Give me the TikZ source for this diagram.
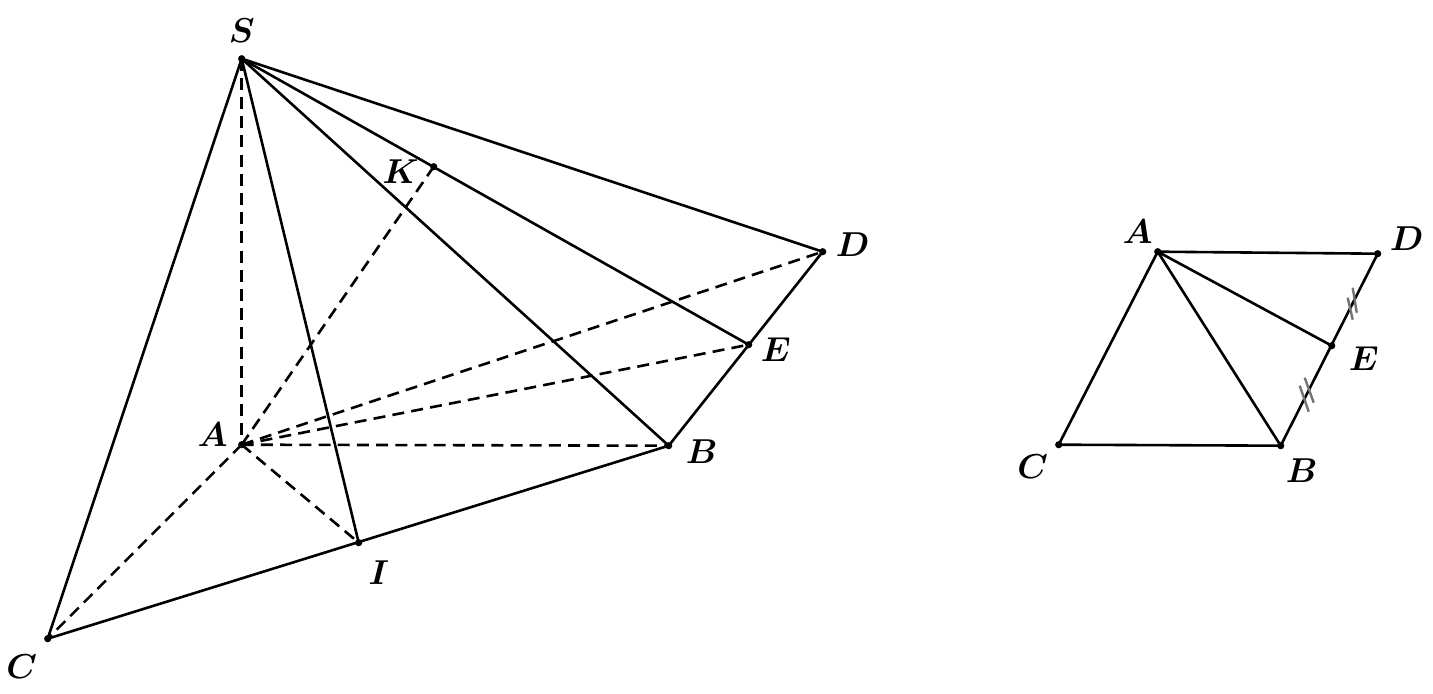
\documentclass[tikz,border=0pt]{standalone}
\usepackage{amsmath}
\tikzset{
  x=0.5pt,y=-0.5pt,
  ptn/.style={circle,fill=black,inner sep=0pt,minimum size=3.6pt},
  seg/.style={line width=1.3pt,line cap=round},
  hid/.style={line width=1.3pt,dash pattern=on 6pt off 3.6pt},
  tick/.style={line width=1.2pt,black!55},
  lab/.style={inner sep=0pt,font=\fontsize{17.28}{18}\selectfont\boldmath}
}
\begin{document}
\begin{tikzpicture}[shift={(0.7,0.7)}]
\useasboundingbox (-0.7,-0.7) rectangle (1432.3,693.3);
% left figure
\node[ptn] (S) at (241,58) {};
\node[ptn] (A) at (241,444) {};
\node[ptn] (B) at (668,445) {};
\node[ptn] (C) at (47,638) {};
\node[ptn] (D) at (822,251) {};
\node[ptn] (E) at (748,344) {};
\node[ptn] (I) at (358,542) {};
\node[ptn] (K) at (433,166) {};
\draw[seg] (S.center)--(C.center)--(B.center)--(D.center)--(S.center);
\draw[seg] (S.center)--(I.center);
\draw[seg] (S.center)--(B.center);
\draw[seg] (S.center)--(E.center);
\draw[hid] (S.center)--(A.center);
\draw[hid] (A.center)--(K.center);
\draw[hid] (A.center)--(D.center);
\draw[hid] (A.center)--(E.center);
\draw[hid] (A.center)--(B.center);
\draw[hid] (A.center)--(C.center);
\draw[hid] (A.center)--(I.center);
\node[lab] (lS) at (241,30) {$S$};
\node[lab] (lA) at (212,434) {$A$};
\node[lab] (lB) at (701,451) {$B$};
\node[lab] (lC) at (21,666) {$C$};
\node[lab] (lD) at (852,244) {$D$};
\node[lab] (lE) at (775,349) {$E$};
\node[lab] (lI) at (378,572) {$I$};
\node[lab] (lK) at (400,171) {$K$};
% right figure
\node[ptn] (A2) at (1157,251) {};
\node[ptn] (D2) at (1377,253) {};
\node[ptn] (E2) at (1331,345) {};
\node[ptn] (B2) at (1280,445) {};
\node[ptn] (C2) at (1058,444) {};
\draw[seg] (A2.center)--(D2.center)--(B2.center)--(C2.center)--(A2.center);
\draw[seg] (A2.center)--(B2.center);
\draw[seg] (A2.center)--(E2.center);
\coordinate (t1a) at (1347,297); \coordinate (t1b) at (1352,319);
\coordinate (t2a) at (1352,287); \coordinate (t2b) at (1356,312);
\coordinate (t3a) at (1299,385); \coordinate (t3b) at (1308,411);
\coordinate (t4a) at (1304,377); \coordinate (t4b) at (1313,402);
\draw[tick] (t1a)--(t1b); \draw[tick] (t2a)--(t2b);
\draw[tick] (t3a)--(t3b); \draw[tick] (t4a)--(t4b);
\node[lab] (lA2) at (1137,231) {$A$};
\node[lab] (lD2) at (1406,238) {$D$};
\node[lab] (lE2) at (1363,358) {$E$};
\node[lab] (lB2) at (1301,470) {$B$};
\node[lab] (lC2) at (1032,466) {$C$};
\end{tikzpicture}
\end{document}
